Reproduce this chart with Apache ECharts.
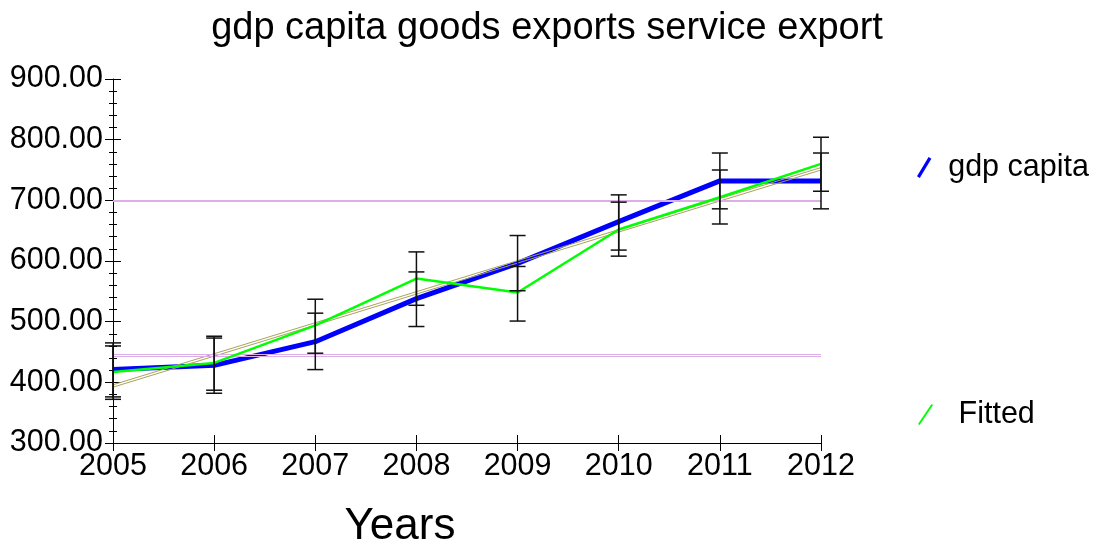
<!DOCTYPE html>
<html>
<head>
<meta charset="utf-8">
<script src="https://cdn.jsdelivr.net/npm/echarts@6/dist/echarts.min.js"></script>
<style>
  html, body { margin: 0; padding: 0; background: #ffffff; }
  #chart { width: 1094px; height: 547px; }
</style>
</head>
<body>
<div id="chart"></div>
<script>
// ---- data ----
var years = ['2005', '2006', '2007', '2008', '2009', '2010', '2011', '2012'];
var yTicks = [300, 400, 500, 600, 700, 800, 900];
var gdpCapita = [421, 428, 467, 538, 596, 665, 732, 732];
var fitted = [417, 432, 494, 571, 548, 652, 705, 760];
var gdpLow = [376, 382, 421, 492, 551, 618, 686, 686];
var gdpHigh = [465, 473, 514, 582, 642, 709, 778, 778];
var fitLow = [372, 387, 448, 527, 501, 608, 661, 715];
var fitHigh = [460, 476, 537, 615, 591, 697, 750, 804];
var trendA = [396, 754];   // values at 2005 and 2012
var trendB = [392, 750];
var refLines = [700.6, 697.9, 446, 442.7];

var FONT = 'Liberation Sans';

function errData(lo, hi) {
  return years.map(function (y, i) { return [i, lo[i], hi[i]]; });
}
function renderErr(params, api) {
  var x = api.value(0);
  var pLo = api.coord([x, api.value(1)]);
  var pHi = api.coord([x, api.value(2)]);
  var hw = 8;
  var st = { stroke: '#111111', lineWidth: 1.5 };
  return {
    type: 'group',
    children: [
      { type: 'line', shape: { x1: pLo[0], y1: pLo[1], x2: pHi[0], y2: pHi[1] }, style: st },
      { type: 'line', shape: { x1: pLo[0] - hw, y1: pLo[1], x2: pLo[0] + hw, y2: pLo[1] }, style: st },
      { type: 'line', shape: { x1: pHi[0] - hw, y1: pHi[1], x2: pHi[0] + hw, y2: pHi[1] }, style: st }
    ]
  };
}

var chart = echarts.init(document.getElementById('chart'), null, { renderer: 'canvas' });

var axisLabelY = {
  fontFamily: FONT, fontSize: 30.5, color: '#000', margin: 10,
  formatter: function (v) { return Number(v).toFixed(2); }
};

var option = {
  animation: false,
  backgroundColor: '#ffffff',
  title: {
    text: 'gdp capita goods exports service export',
    left: 'center', top: 5,
    textStyle: { fontFamily: FONT, fontSize: 38, fontWeight: 'normal', color: '#000' }
  },
  legend: [
    {
      left: 917, top: 152, padding: 0, itemWidth: 30, itemHeight: 21,
      selectedMode: false,
      data: [{ name: 'gdp capita', icon: 'path://M0,17.5 L10.5,0 L13,1.5 L2.5,19 Z' }],
      textStyle: { fontFamily: FONT, fontSize: 30.5, color: '#000', padding: [0, 0, 0, 4] }
    },
    {
      left: 918, top: 399, padding: 0, itemWidth: 30, itemHeight: 21,
      selectedMode: false,
      data: [{ name: 'Fitted', icon: 'path://M0,18.5 L12.5,0 L14,1 L1.5,19.5 Z' }],
      textStyle: { fontFamily: FONT, fontSize: 30.5, color: '#000', padding: [0, 0, 0, 13] }
    }
  ],
  grid: { left: 113, right: 273, top: 79, bottom: 104, containLabel: false, outerBoundsMode: 'none' },
  xAxis: [
    {
      type: 'category', data: years, boundaryGap: false, position: 'bottom',
      name: 'Years', nameLocation: 'middle', nameGap: 62,
      nameTextStyle: { fontFamily: FONT, fontSize: 44, color: '#000', padding: [0, 134, 0, 0] },
      axisLine: { show: true, lineStyle: { color: '#000', width: 1 } },
      axisTick: { show: true, length: 8, alignWithLabel: true, lineStyle: { color: '#000', width: 1 } },
      axisLabel: { fontFamily: FONT, fontSize: 30.5, color: '#000', margin: 8 },
      splitLine: { show: false }
    },
    {
      type: 'category', data: years, boundaryGap: false, position: 'bottom',
      axisLine: { show: false },
      axisTick: { show: true, inside: true, length: 8, lineStyle: { color: '#000', width: 1 } },
      axisLabel: { show: false },
      splitLine: { show: false }
    }
  ],
  yAxis: [
    {
      type: 'value', min: 300, max: 900, interval: 100, position: 'left',
      axisLine: { show: true, lineStyle: { color: '#000', width: 1 } },
      axisTick: { show: true, length: 8, lineStyle: { color: '#000', width: 1 } },
      minorTick: { show: true, splitNumber: 5, length: 4, lineStyle: { color: '#000', width: 1 } },
      axisLabel: axisLabelY,
      splitLine: { show: false }
    },
    {
      type: 'value', min: 300, max: 900, interval: 100, position: 'left',
      axisLine: { show: false },
      axisTick: { show: true, inside: true, length: 8, lineStyle: { color: '#000', width: 1 } },
      minorTick: { show: true, splitNumber: 5, length: 4, lineStyle: { color: '#000', width: 1 } },
      axisLabel: { show: false },
      splitLine: { show: false }
    }
  ],
  series: [
    {
      name: 'trendA', type: 'line', silent: true, symbol: 'none', z: 4,
      data: [[0, trendA[0]], [years.length - 1, trendA[1]]],
      lineStyle: { color: '#a9a35c', width: 1 },
      markLine: {
        silent: true, symbol: 'none', label: { show: false },
        lineStyle: { color: '#dcaee6', width: 1, type: 'solid' },
        data: refLines.map(function (v) { return { yAxis: v }; })
      }
    },
    {
      name: 'trendB', type: 'line', silent: true, symbol: 'none', z: 4,
      data: [[0, trendB[0]], [years.length - 1, trendB[1]]],
      lineStyle: { color: '#a9a35c', width: 1 }
    },
    {
      name: 'gdp capita', type: 'line', symbol: 'none', z: 3,
      data: gdpCapita, color: '#0000ff',
      itemStyle: { color: '#0000ff' },
      lineStyle: { color: '#0000ff', width: 5 }
    },
    {
      name: 'Fitted', type: 'line', symbol: 'none', z: 5,
      data: fitted, color: '#00ff00',
      itemStyle: { color: '#00ff00' },
      lineStyle: { color: '#00ff00', width: 2.5 }
    },
    {
      name: 'errGdp', type: 'custom', silent: true, z: 6,
      renderItem: renderErr, data: errData(gdpLow, gdpHigh)
    },
    {
      name: 'errFit', type: 'custom', silent: true, z: 6,
      renderItem: renderErr, data: errData(fitLow, fitHigh)
    }
  ]
};
chart.setOption(option);
</script>
</body>
</html>
